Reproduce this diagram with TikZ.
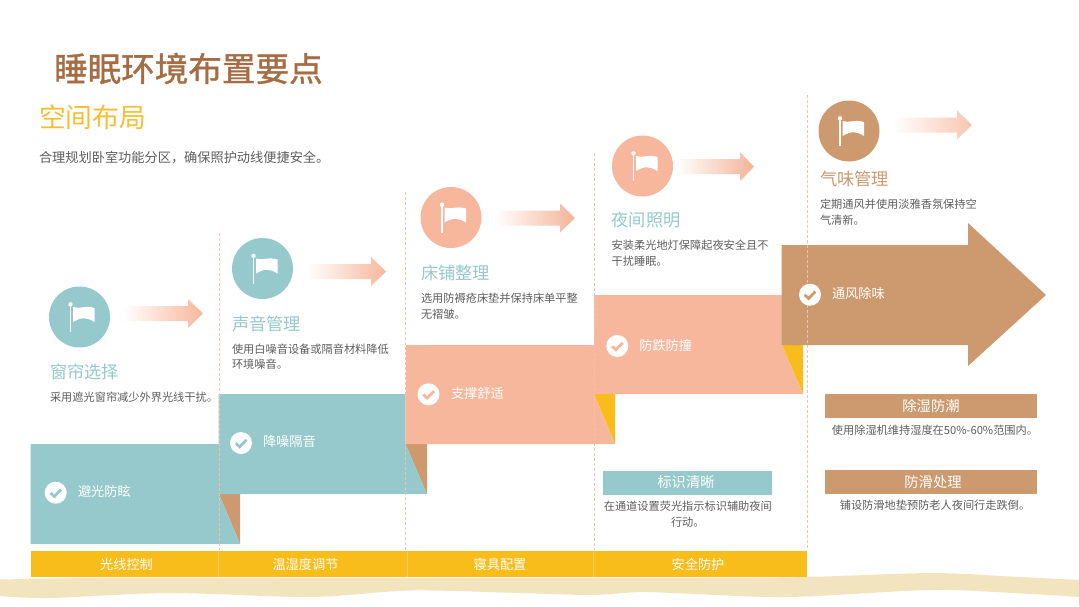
\documentclass[tikz,border=0pt]{standalone}
\usepackage{fontspec}
\setmainfont{Noto Sans CJK SC}
\newfontfamily\titlefont[FakeBold=1.2]{Noto Sans CJK SC}
\usetikzlibrary{calc}
\definecolor{teal1}{HTML}{95C9CB}
\definecolor{salmon1}{HTML}{F7B79C}
\definecolor{brown1}{HTML}{CC9A6E}
\definecolor{gold1}{HTML}{F8BD1A}
\definecolor{titlec}{HTML}{A66C44}
\definecolor{subc}{HTML}{F6BE35}
\definecolor{bodyc}{HTML}{5E5E5E}
\definecolor{wavec}{HTML}{F3E4C0}
\definecolor{dashc}{HTML}{F6C0A8}
\tikzset{
  txt/.style={inner sep=0pt,outer sep=0pt,anchor=west,align=left},
  headtxt/.style={txt,font=\fontsize{17.2}{20}\selectfont,text=teal1},
  bodytxt/.style={txt,font=\fontsize{11.2}{15.5}\selectfont,text=bodyc},
  centertxt/.style={inner sep=0pt,outer sep=0pt,align=center,font=\fontsize{11.2}{15.5}\selectfont,text=bodyc},
  ribtxt/.style={txt,font=\fontsize{13.2}{16}\selectfont,text=white},
  bartxt/.style={inner sep=0pt,outer sep=0pt,font=\fontsize{13.2}{16}\selectfont,text=white},
  boxtxt/.style={inner sep=0pt,outer sep=0pt,font=\fontsize{14.3}{17}\selectfont,text=white},
  disc/.style={circle,minimum size=61pt,inner sep=0pt,outer sep=0pt},
  guideline/.style={draw=dashc,line width=0.7pt,dash pattern=on 3pt off 2pt},
  pics/flagmark/.style={code={
    \fill[white] (-9,-12.7) circle (2.2);
    \fill[white] (-9.9,-12) rectangle (-8.1,15);
    \fill[white] (-6.5,-10) .. controls (0,-7.5) and (6,-12) .. (15,-9) -- (15,5)
      .. controls (7,0) and (2,0) .. (-6.5,5) -- cycle;
  }},
  pics/tickmark/.style={code={
    \fill[white] (0,0) circle (11);
    \draw[#1,line width=2.8pt] (-5.2,0.2) -- (-1.4,3.8) -- (5.4,-3.2);
  }}
}
\newcommand{\softarrow}[5]{%
  \shade[left color=white,right color=#5]
    (#1,#4-7.5) -- (#2,#4-7.5) -- (#2,#4-14.5) -- (#3,#4) -- (#2,#4+14.5) -- (#2,#4+7.5) -- (#1,#4+7.5) -- cycle;}
\begin{document}
\begin{tikzpicture}[x=1pt,y=-1pt]
\useasboundingbox (0,0) rectangle (1080,606);
\fill[white] (0,0) rectangle (1080,606);
\fill[black!18] (1078.8,0) rectangle (1080,606);

% wave
\fill[wavec] plot[smooth,tension=0.5] coordinates {(0,579.5) (100,578) (300,578) (500,578) (700,578) (807,577) (930,573) (1000,576) (1078.8,580)}
  -- plot[smooth,tension=0.5] coordinates {(1078.8,597) (1013,593) (930,590) (787,597) (673,593) (640,592) (590,595) (520,593) (410,590.5) (310,597) (170,593) (50,598) (0,596)} -- cycle;

% triangles behind ribbons
\fill[brown1] (219,494) -- (240,494) -- (240,544) -- cycle;
\fill[brown1] (405.5,444) -- (427,444) -- (427,494) -- cycle;
\fill[gold1] (594,394) -- (615,394) -- (615,444) -- cycle;
\fill[gold1] (782,345) -- (803,345) -- (803,394) -- cycle;

% ribbons
\fill[teal1] (30.5,444) -- (219,444) -- (219,494) -- (240,544) -- (30.5,544) -- cycle;
\fill[teal1] (218.5,394) -- (405.5,394) -- (405.5,444) -- (427,494) -- (218.5,494) -- cycle;
\fill[salmon1] (406,345) -- (594,345) -- (594,394) -- (615,444) -- (406,444) -- cycle;
\fill[salmon1] (594,295) -- (782,295) -- (782,345) -- (803,394) -- (594,394) -- cycle;
\fill[brown1] (781.5,245) -- (968,245) -- (968,223) -- (1046,295) -- (968,366) -- (968,345) -- (781.5,345) -- cycle;

% yellow bar
\fill[gold1] (30.5,550.5) rectangle (807,577);
\foreach \xx in {218,407,593} \draw[white,opacity=0.25,line width=0.5pt] (\xx,550.5) -- (\xx,577);

% dashed guides
\coordinate (g1a) at (219,233); \coordinate (g1b) at (219,550);
\coordinate (g2a) at (405,192); \coordinate (g2b) at (405,550);
\coordinate (g3a) at (594,153); \coordinate (g3b) at (594,550);
\coordinate (g4a) at (807.5,95); \coordinate (g4b) at (807.5,548);
\draw[guideline] (g1a) -- (g1b);
\draw[guideline] (g2a) -- (g2b);
\draw[guideline] (g3a) -- (g3b);
\draw[guideline] (g4a) -- (g4b);

% title block
\node[txt,font=\titlefont\fontsize{33.6}{38}\selectfont,text=titlec] (title) at (54,68.5) {睡眠环境布置要点};
\node[txt,font=\fontsize{26.8}{32}\selectfont,text=subc] (sub) at (39,117) {空间布局};
\node[txt,font=\fontsize{13.2}{16}\selectfont,text=bodyc] (desc) at (39,157.5) {合理规划卧室功能分区，确保照护动线便捷安全。};

% discs and flags
\node[disc,fill=teal1] (d1) at (79.5,317) {};
\node[disc,fill=teal1] (d2) at (262.5,268.5) {};
\node[disc,fill=salmon1] (d3) at (451,217.5) {};
\node[disc,fill=salmon1] (d4) at (642.5,166) {};
\node[disc,fill=brown1] (d5) at (849,131) {};
\foreach \dd in {d1,d2,d3,d4,d5} \pic at (\dd) {flagmark};

% soft arrows
\softarrow{122}{188}{203}{313.5}{salmon1}
\softarrow{306}{371}{386}{271.5}{salmon1}
\softarrow{495}{560}{575}{218}{salmon1!90!brown1}
\softarrow{676}{740}{754}{166.7}{salmon1!90!brown1}
\softarrow{893}{957}{972}{125}{salmon1!80!white}

% headings
\node[headtxt] (h1) at (50,372) {窗帘选择};
\node[headtxt] (h2) at (232,323.7) {声音管理};
\node[headtxt] (h3) at (421,273) {床铺整理};
\node[headtxt] (h4) at (611.7,220) {夜间照明};
\node[headtxt,text=brown1] (h5) at (820,179) {气味管理};

% body
\node[bodytxt] (b1) at (50,397) {采用遮光窗帘减少外界光线干扰。};
\node[bodytxt] (b2) at (232,356.5) {使用白噪音设备或隔音材料降低\\环境噪音。};
\node[bodytxt] (b3) at (421,306) {选用防褥疮床垫并保持床单平整\\无褶皱。};
\node[bodytxt] (b4) at (611.7,253) {安装柔光地灯保障起夜安全且不\\干扰睡眠。};
\node[bodytxt] (b5) at (820,212) {定期通风并使用淡雅香氛保持空\\气清新。};

% ticks
\pic at (55.7,492.7) {tickmark=teal1};
\pic at (241,443) {tickmark=teal1};
\pic at (428.5,394.3) {tickmark=salmon1};
\pic at (617.3,346) {tickmark=salmon1};
\pic at (810,294.7) {tickmark=brown1};

% ribbon labels
\node[ribtxt] (r1) at (78,491) {避光防眩};
\node[ribtxt] (r2) at (263,441) {降噪隔音};
\node[ribtxt] (r3) at (451,393) {支撑舒适};
\node[ribtxt] (r4) at (639.3,345) {防跌防撞};
\node[ribtxt] (r5) at (832,293) {通风除味};

% bar labels
\node[bartxt] (l1) at (126.5,564.5) {光线控制};
\node[bartxt] (l2) at (305.5,564.5) {温湿度调节};
\node[bartxt] (l3) at (500,564.5) {寝具配置};
\node[bartxt] (l4) at (698,564) {安全防护};

% side boxes
\fill[brown1] (825,394) rectangle (1037,418);
\fill[brown1] (825,470) rectangle (1037,494);
\fill[teal1] (603.3,471) rectangle (772.3,495);
\node[boxtxt] (x1) at (931,406.5) {除湿防潮};
\node[boxtxt] (x2) at (933,482) {防滑处理};
\node[boxtxt] (x3) at (686,482) {标识清晰};
\node[centertxt] (t1) at (935,430) {使用除湿机维持湿度在50\%-60\%范围内。};
\node[centertxt] (t2) at (935,505.7) {铺设防滑地垫预防老人夜间行走跌倒。};
\node[centertxt] (t3) at (687.8,514.3) {在通道设置荧光指示标识辅助夜间\\行动。};
\end{tikzpicture}
\end{document}
